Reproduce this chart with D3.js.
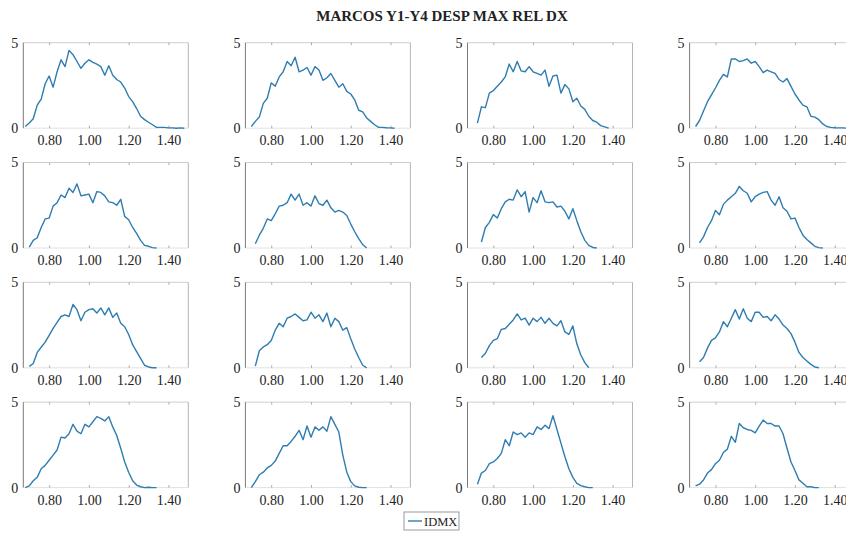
<!DOCTYPE html>
<html>
<head>
<meta charset="utf-8">
<script src="https://cdn.jsdelivr.net/npm/d3@7"></script>
<style>
body{margin:0;background:#fff;}
svg{display:block;}
text{font-family:"Liberation Serif","Times New Roman",serif;fill:#222;}
</style>
</head>
<body>
<div id="graphHolder"></div>
<script>
// shared x grid (relative displacement bins)
var xGrid = [0.68,0.70,0.72,0.74,0.76,0.78,0.80,0.82,0.84,0.86,0.88,0.90,0.92,0.94,0.96,0.98,
	1.00,1.02,1.04,1.06,1.08,1.10,1.12,1.14,1.16,1.18,1.20,1.22,1.24,1.26,1.28,1.30,
	1.32,1.34,1.36,1.38,1.40,1.42,1.44,1.46,1.48];
var xTicks = [0.80,1.00,1.20,1.40];
var yTicks = [0,5];
var seriesName = "IDMX";
var title = "MARCOS Y1-Y4 DESP MAX REL DX";

// first x value of each panel (row by row)
var panelStart = [0.68,0.70,0.72,0.70, 0.70,0.72,0.74,0.72, 0.70,0.72,0.74,0.72, 0.68,0.70,0.72,0.70];

var p1 = [0.1,0.3,0.55,1.35,1.7,2.6,3.05,2.4,3.3,4.0,3.6,4.55,4.3,3.9,3.5,3.8,4.0,3.85,3.75,3.6,3.1,3.65,3.1,2.85,2.7,2.35,1.85,1.55,1.15,0.7,0.5,0.35,0.2,0.05,0.05,0.05,0.02,0.02,0.0,0.02,0.0];
var p2 = [0.1,0.4,0.65,1.45,1.75,2.65,2.45,3.0,3.3,3.9,3.65,4.15,3.3,3.4,3.55,3.1,3.6,3.4,2.8,2.95,3.2,2.8,2.4,2.6,2.15,2.0,1.65,1.05,0.95,0.6,0.4,0.2,0.05,0.05,0.03,0.02,0.0];
var p3 = [0.3,1.25,1.2,2.05,2.2,2.45,2.7,3.0,3.75,3.3,3.9,3.35,3.3,3.6,3.3,3.2,3.1,3.4,2.45,3.05,3.1,2.05,2.55,2.3,1.55,1.75,1.3,1.1,0.7,0.45,0.35,0.15,0.08,0.0];
var p4 = [0.1,0.45,1.0,1.55,1.95,2.35,2.8,3.15,3.0,4.05,4.05,3.9,3.95,4.05,3.8,3.9,3.6,3.25,3.4,3.3,3.2,2.85,2.7,2.9,2.45,2.0,1.65,1.35,1.25,0.7,0.65,0.5,0.25,0.1,0.05,0.03,0.02,0.02,0.0];
var p5 = [0.05,0.45,0.6,1.2,1.7,1.75,2.45,2.65,3.1,2.95,3.5,3.25,3.75,3.05,3.1,3.15,2.65,3.3,3.25,3.05,2.7,2.65,2.5,2.85,1.85,1.65,1.2,0.85,0.45,0.15,0.1,0.02,0.0];
var p6 = [0.25,0.75,1.15,1.7,1.6,2.0,2.45,2.5,2.65,3.15,2.8,3.15,2.5,2.65,2.45,3.05,2.6,2.5,2.8,2.35,2.1,2.2,2.1,1.9,1.4,0.95,0.55,0.2,0.0];
var p7 = [0.35,1.2,1.5,1.95,1.75,2.3,2.7,2.85,2.8,3.4,3.0,3.3,2.1,2.95,2.65,3.35,2.7,2.65,2.7,2.4,2.45,2.15,1.7,2.3,1.6,0.95,0.45,0.15,0.03,0.0];
var p8 = [0.3,0.65,1.2,1.6,2.2,1.95,2.55,2.8,3.0,3.2,3.6,3.35,3.2,2.7,3.0,3.15,3.25,3.3,2.8,2.5,3.0,2.35,2.15,1.7,1.75,1.2,0.75,0.5,0.3,0.1,0.02,0.0];
var p9 = [0.08,0.25,0.9,1.2,1.5,1.9,2.3,2.65,3.0,3.1,3.0,3.7,3.4,2.75,3.25,3.4,3.45,3.2,3.5,3.1,3.5,2.95,3.2,2.6,2.4,1.95,1.35,0.95,0.55,0.15,0.05,0.0,0.0];
var p10 = [0.1,1.0,1.22,1.35,1.6,2.2,2.6,2.4,2.9,3.0,3.15,2.95,2.75,2.8,3.25,2.9,3.1,2.7,3.2,2.4,2.9,2.7,2.2,2.35,1.7,1.1,0.6,0.15,0.0];
var p11 = [0.6,0.85,1.3,1.6,1.7,2.25,2.3,2.55,2.8,3.15,2.8,2.9,2.5,2.9,2.7,2.95,2.6,2.9,2.6,2.45,2.75,2.1,1.95,2.45,1.4,0.75,0.3,0.0];
var p12 = [0.35,0.6,1.15,1.6,1.75,2.1,2.7,2.4,2.9,3.4,2.85,3.45,2.9,2.7,3.25,3.25,2.95,3.0,2.75,3.1,2.85,2.5,2.3,2.0,1.5,0.9,0.6,0.4,0.2,0.05,0.0];
var p13 = [0.0,0.1,0.4,0.6,1.1,1.3,1.6,1.9,2.2,2.95,2.9,3.15,3.7,3.3,3.15,3.7,3.55,3.85,4.15,4.05,3.9,4.15,3.55,3.05,2.3,1.5,0.9,0.4,0.15,0.05,0.0,0.02,0.0,0.0];
var p14 = [0.0,0.35,0.75,0.9,1.15,1.3,1.55,2.0,2.45,2.45,2.7,3.0,3.35,2.8,3.6,2.95,3.55,3.35,3.55,3.3,4.15,3.7,3.25,1.9,0.9,0.35,0.1,0.02,0.0,0.0];
var p15 = [0.2,0.85,1.0,1.4,1.5,1.7,2.0,2.8,2.45,3.25,3.1,3.2,2.95,3.2,3.1,3.55,3.4,3.65,3.45,4.2,3.4,2.6,1.8,1.1,0.6,0.25,0.12,0.05,0.0,0.0];
var p16 = [0.1,0.2,0.45,0.85,1.05,1.4,1.6,2.05,2.25,3.0,2.65,3.75,3.5,3.4,3.35,3.2,3.6,3.95,3.75,3.75,3.6,3.6,3.15,2.3,1.5,1.0,0.45,0.25,0.05,0.05,0.0,0.0];
var panels = [p1,p2,p3,p4,p5,p6,p7,p8,p9,p10,p11,p12,p13,p14,p15,p16];

var W = 846, H = 533;
var left0 = 23.3, colStep = 222.1, top0 = 42.7, rowStep = 119.8;
var plotW = 165, plotH = 85.5;
var lineColor = "#2f7db0";

var svg = d3.select("#graphHolder").append("svg")
	.attr("width",W)
	.attr("height",H);

svg.append("text")
	.attr("x",442)
	.attr("y",21)
	.attr("text-anchor","middle")
	.style("font-size","15px")
	.style("font-weight","bold")
	.text(title);

var x = d3.scaleLinear().domain([0.67,1.50]).range([0,plotW]);
var y = d3.scaleLinear().domain([0,5]).range([plotH,0]);

var line = d3.line()
	.x(function(d){return x(d[0]);})
	.y(function(d){return y(d[1]);});

for (var i=0;i<panels.length;i++){
	var col = i%4, row = Math.floor(i/4);
	var g = svg.append("g")
		.attr("transform","translate("+(left0+col*colStep)+","+(top0+row*rowStep)+")");

	// box
	g.append("line").attr("x1",0).attr("x2",plotW).attr("y1",0).attr("y2",0)
		.style("stroke","#cfcfcf").style("stroke-width",1);
	g.append("line").attr("x1",plotW).attr("x2",plotW).attr("y1",0).attr("y2",plotH)
		.style("stroke","#b4b4b4").style("stroke-width",1);
	g.append("line").attr("x1",0).attr("x2",plotW).attr("y1",plotH).attr("y2",plotH)
		.style("stroke","#e2e2e2").style("stroke-width",1);
	g.append("line").attr("x1",0).attr("x2",0).attr("y1",0).attr("y2",plotH)
		.style("stroke","#7a7a7a").style("stroke-width",1);

	// top tick marks
	var topAxis = g.append("g")
		.call(d3.axisTop(x).tickValues(xTicks).tickSize(-2.5).tickFormat(""));
	topAxis.select(".domain").remove();
	topAxis.selectAll("line").style("stroke","#aaa");

	var xAxis = g.append("g")
		.attr("transform","translate(0,"+plotH+")")
		.call(d3.axisBottom(x).tickValues(xTicks).tickSize(-2.5).tickFormat(d3.format(".2f")));
	xAxis.select(".domain").remove();
	xAxis.selectAll("line").style("stroke","#aaa");
	xAxis.selectAll("text").style("font-size","14px").attr("dy","0.71em").attr("y",7);

	var yAxis = g.append("g")
		.call(d3.axisLeft(y).tickValues(yTicks).tickSize(0).tickPadding(5).tickFormat(d3.format("d")));
	yAxis.select(".domain").remove();
	yAxis.selectAll("text").style("font-size","14px");

	var idx = xGrid.indexOf(panelStart[i]);
	var pts = panels[i].map(function(v,k){return [xGrid[idx+k],v];});
	g.append("path")
		.datum(pts)
		.attr("d",line)
		.style("fill","none")
		.style("stroke",lineColor)
		.style("stroke-width",1.4)
		.style("stroke-linejoin","round");
}

// legend
var leg = svg.append("g").attr("transform","translate(404,512)");
leg.append("rect").attr("width",55).attr("height",18)
	.style("fill","#fff").style("stroke","#9a9a9a").style("stroke-width",1);
leg.append("line").attr("x1",4).attr("x2",18).attr("y1",9).attr("y2",9)
	.style("stroke",lineColor).style("stroke-width",1.4);
leg.append("text").attr("x",20).attr("y",13.5)
	.style("font-size","12.5px")
	.text(seriesName);
</script>
</body>
</html>
